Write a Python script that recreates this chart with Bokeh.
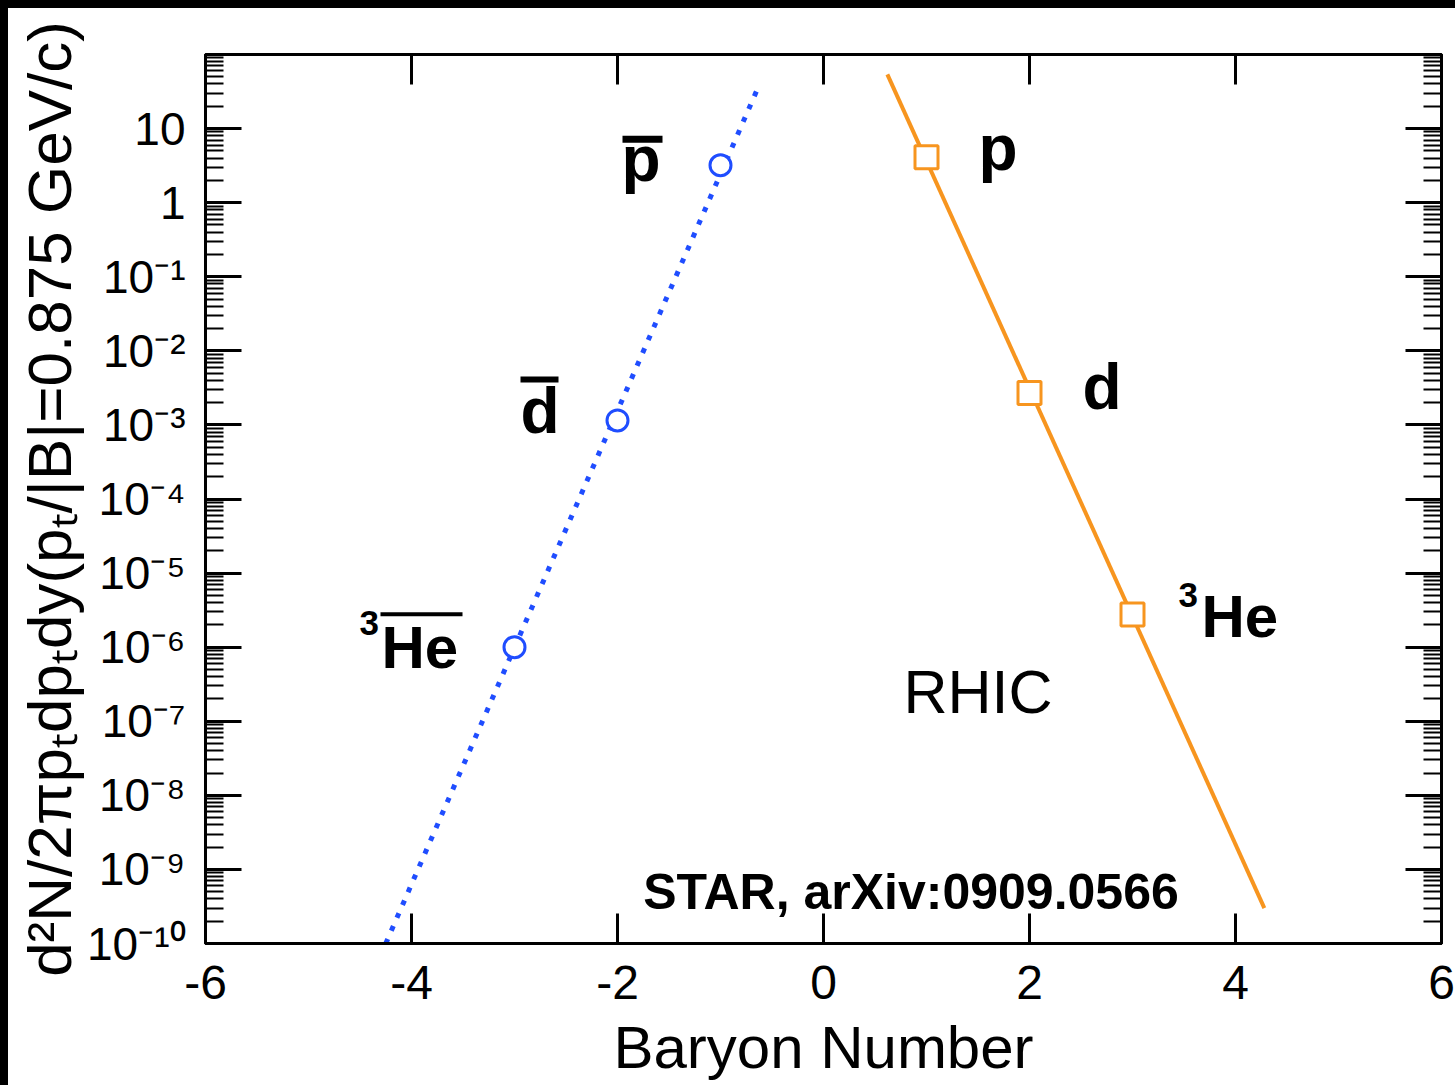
import math
from bokeh.plotting import figure
from bokeh.models import (ColumnDataSource, LabelSet, FixedTicker, LogAxis, LinearAxis,
                          CustomJSTickFormatter, Range1d, Div)
from bokeh.layouts import row, column
from bokeh.core.properties import value
from bokeh.embed import file_html
from bokeh.resources import INLINE

# ---------------- data ----------------
anti_baryon = [-1, -2, -3]
anti_yield = [3.2, 1.15e-3, 1.0e-6]
anti_names = ["p", "d", "He"]
matter_baryon = [1, 2, 3]
matter_yield = [4.1, 2.7e-3, 2.75e-6]
matter_names = ["p", "d", "He"]
anti_fit_baryon = [-4.25, -0.62]
anti_fit_yield = [1.0e-10, 40.0]
matter_fit_baryon = [0.62, 4.28]
matter_fit_yield = [54.0, 3.0e-10]
x_tick_values = [-6, -4, -2, 0, 2, 4, 6]
x_tick_labels = ["-6", "-4", "-2", "0", "2", "4", "6"]
y_tick_values = [1e1, 1e0, 1e-1, 1e-2, 1e-3, 1e-4, 1e-5, 1e-6, 1e-7, 1e-8, 1e-9, 1e-10]
y_tick_labels = ["10", "1", "10⁻¹", "10⁻²", "10⁻³", "10⁻⁴", "10⁻⁵", "10⁻⁶", "10⁻⁷",
                 "10⁻⁸", "10⁻⁹", "10⁻¹⁰"]
x_title = "Baryon Number"
y_title = "d²N/2πpₜdpₜdy(pₜ/|B|=0.875 GeV/c)"
note_rhic = "RHIC"
note_star = "STAR, arXiv:0909.0566"

# ---------------- layout / style ----------------
BAND = 8                      # black bands at top and left
FIG_W, FIG_H = 1447, 1077     # area right of / below the bands
BL, BR, BT, BB = 197, 14, 46, 142
FW, FH = FIG_W - BL - BR, FIG_H - BT - BB
X0, X1 = -6, 6
Y0, Y1 = 1e-10, 1e2
PXDEC = FH / (math.log10(Y1) - math.log10(Y0))

BLUE = "#1f4dff"
ORANGE = "#f7951f"
FONT = "Liberation Sans"


def shift(x, y, dx_px, dy_up_px):
    return x + dx_px * (X1 - X0) / FW, y * 10 ** (dy_up_px / PXDEC)


p = figure(width=FIG_W, height=FIG_H, x_range=Range1d(X0, X1), y_range=Range1d(Y0, Y1),
           y_axis_type="log", output_backend="svg", toolbar_location=None,
           min_border_left=BL, min_border_right=BR, min_border_top=BT, min_border_bottom=BB,
           background_fill_color="white", border_fill_color="white")
p.xgrid.visible = False
p.ygrid.visible = False
p.outline_line_color = "black"
p.outline_line_width = 3

bottom_axis = p.below[0]
left_axis = p.left[0]
top_axis = LinearAxis()
p.add_layout(top_axis, "above")
right_axis = LogAxis()
p.add_layout(right_axis, "right")

minor_y = [k * 10 ** e for e in range(-10, 2) for k in range(2, 10)]
blank = CustomJSTickFormatter(code="return ''")

for ax in (bottom_axis, top_axis):
    ax.ticker = FixedTicker(ticks=x_tick_values, minor_ticks=[])
    ax.major_tick_in = 30
    ax.major_tick_out = 0
    ax.minor_tick_in = 0
    ax.minor_tick_out = 0
    ax.major_tick_line_width = 3
    ax.axis_line_width = 3
    ax.major_tick_line_color = "black"
    ax.axis_line_color = "black"
bottom_axis.formatter = CustomJSTickFormatter(
    args=dict(vals=x_tick_values, labs=x_tick_labels),
    code="for (let i = 0; i < vals.length; i++) { if (Math.abs(tick - vals[i]) < 1e-9) return labs[i]; } return '';")
bottom_axis.major_label_text_font = FONT
bottom_axis.major_label_text_font_size = "48px"
bottom_axis.major_label_text_color = "black"
bottom_axis.major_label_standoff = 22
bottom_axis.axis_label = x_title
bottom_axis.axis_label_text_font = FONT
bottom_axis.axis_label_text_font_size = "60px"
bottom_axis.axis_label_text_font_style = "normal"
bottom_axis.axis_label_text_color = "black"
bottom_axis.axis_label_standoff = 12
top_axis.formatter = blank
top_axis.major_label_standoff = 0

for ax in (left_axis, right_axis):
    ax.ticker = FixedTicker(ticks=y_tick_values, minor_ticks=minor_y)
    ax.major_tick_in = 36
    ax.major_tick_out = 0
    ax.minor_tick_in = 18
    ax.minor_tick_out = 0
    ax.major_tick_line_width = 3
    ax.minor_tick_line_width = 2
    ax.axis_line_width = 3
    ax.major_tick_line_color = "black"
    ax.minor_tick_line_color = "black"
    ax.axis_line_color = "black"
right_axis.formatter = CustomJSTickFormatter(code="return ''")
right_axis.major_label_standoff = 0

left_axis.formatter = CustomJSTickFormatter(
    args=dict(vals=y_tick_values, labs=y_tick_labels),
    code="""for (let i = 0; i < vals.length; i++) {
      if (Math.abs(Math.log10(tick) - Math.log10(vals[i])) < 1e-6) return labs[i];
    } return '';""")
left_axis.major_label_text_font = FONT
left_axis.major_label_text_font_size = "46px"
left_axis.major_label_text_color = "black"
left_axis.major_label_standoff = 20
left_axis.axis_label = y_title
left_axis.axis_label_text_font = FONT
left_axis.axis_label_text_font_size = "62px"
left_axis.axis_label_text_font_style = "normal"
left_axis.axis_label_text_color = "black"
left_axis.axis_label_standoff = 0

# fit lines
p.line(anti_fit_baryon, anti_fit_yield, line_color=BLUE, line_width=5, line_dash="5 9")
p.line(matter_fit_baryon, matter_fit_yield, line_color=ORANGE, line_width=4)

# markers
p.scatter(anti_baryon, anti_yield, marker="circle", size=21, line_color=BLUE, line_width=3,
          fill_color="white")
p.scatter(matter_baryon, matter_yield, marker="square", size=23, line_color=ORANGE,
          line_width=3, fill_color="white")

# particle labels
anti_dx, anti_dy, anti_fs = [-99, -97, -133], [-16, -13, -21], ["64px", "64px", "60px"]
matter_dx, matter_dy, matter_fs = [52, 53, 69], [-13, -16, -22], ["64px", "64px", "60px"]
lsrc = ColumnDataSource(dict(x=anti_baryon + matter_baryon, y=anti_yield + matter_yield,
                             t=anti_names + matter_names, dx=anti_dx + matter_dx,
                             dy=anti_dy + matter_dy, fs=anti_fs + matter_fs))
p.add_layout(LabelSet(x="x", y="y", text="t", source=lsrc, x_offset="dx", y_offset="dy",
                      text_font_size="fs", text_align="left", text_baseline="alphabetic",
                      text_font=value(FONT), text_font_style="bold", text_color="black"))
he_anti = anti_names.index("He")
he_mat = matter_names.index("He")
ssrc = ColumnDataSource(dict(x=[anti_baryon[he_anti], matter_baryon[he_mat]],
                             y=[anti_yield[he_anti], matter_yield[he_mat]],
                             t=["3", "3"], dx=[-155, 46], dy=[12, 8]))
p.add_layout(LabelSet(x="x", y="y", text="t", source=ssrc, x_offset="dx", y_offset="dy",
                      text_font_size="35px", text_align="left", text_baseline="alphabetic",
                      text_font=value(FONT), text_font_style="bold", text_color="black"))

# overlines for antiparticles
ov_dx0, ov_dx1, ov_up, ov_w = [-98, -97, -134], [-58, -59, -52], [26, 41, 33], [7, 6, 4]
for xb, yb, a, b, u, w in zip(anti_baryon, anti_yield, ov_dx0, ov_dx1, ov_up, ov_w):
    xa, ya = shift(xb, yb, a, u)
    xe, _ = shift(xb, yb, b, u)
    p.segment(x0=[xa], y0=[ya], x1=[xe], y1=[ya], line_color="black", line_width=w)

# notes
nsrc = ColumnDataSource(dict(x=[0.777, -1.75], y=[1.31e-7, 2.96e-10], t=[note_rhic, note_star],
                             fs=["61px", "50px"], st=["normal", "bold"]))
p.add_layout(LabelSet(x="x", y="y", text="t", source=nsrc, text_font_size="fs",
                      text_font_style="st", text_align="left", text_baseline="alphabetic",
                      text_font=value(FONT), text_color="black"))

top_band = Div(width=FIG_W, height=BAND, margin=0, styles={"background-color": "black"})
left_band = Div(width=BAND, height=FIG_H + BAND, margin=0, styles={"background-color": "black"})
layout = row(left_band, column(top_band, p, spacing=0), spacing=0)

open("out.html", "w").write(file_html(layout, INLINE))
